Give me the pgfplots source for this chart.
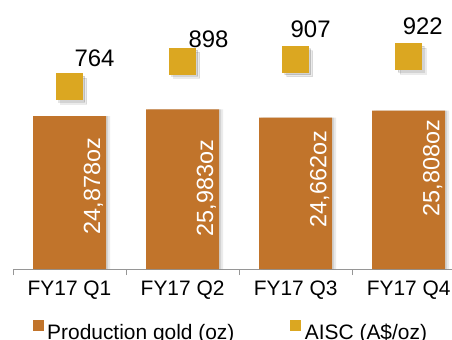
\documentclass[border=0pt]{standalone}
\usepackage{fontspec}
\setmainfont{Liberation Sans}
\usepackage{pgfplots}
\pgfplotsset{compat=1.18}
\usepackage{pgfplotstable}
\definecolor{barc}{RGB}{193,116,43}
\definecolor{goldc}{RGB}{219,167,33}
\definecolor{axg}{RGB}{150,150,150}

\pgfplotstableread{
x y
0 24878
1 25983
2 24662
3 25808
}\prod

\pgfplotstableread{
x y label
0.212 13520 {24,878oz}
1.212 13190 {25,983oz}
2.212 14660 {24,662oz}
3.212 16450 {25,808oz}
}\prodlab

\pgfplotstableread{
x y dx dy label
0 764 25 29 764
1 898 26 22.5 898
2 907 15 30.5 907
3 922 14 31 922
}\aisc

\begin{document}
\begin{tikzpicture}
\path[use as bounding box] (0,0) rectangle (452bp,340bp);
\begin{axis}[
  at={(13bp,71bp)}, anchor=south west,
  scale only axis, width=439bp, height=269bp,
  xmin=-0.5, xmax=3.383, ymin=0, ymax=43810,
  clip=false,
  axis x line*=bottom, axis y line=none,
  x axis line style={draw=axg, line width=0.8bp},
  xtick={0,1,2,3},
  xticklabels={FY17 Q1,FY17 Q2,FY17 Q3,FY17 Q4},
  xtick style={draw=none},
  major tick length=0pt,
  xticklabel style={font=\fontsize{21}{25}\selectfont, yshift=-8bp, text=black},
  extra x ticks={-0.5,0.5,1.5,2.5},
  extra x tick labels={},
  extra x tick style={xtick style={draw=axg, line width=0.8bp}, major tick length=6bp, tick align=outside},
  legend image code/.code={\fill[#1, draw=none] (0bp,1.7bp) rectangle (11bp,12.7bp);},
  legend columns=2,
  legend style={at={(0.0449,-0.1904)}, anchor=north west, draw=none, fill=none,
    inner sep=0pt, outer sep=0pt, font=\fontsize{21}{25}\selectfont,
    nodes={inner sep=0pt},
    /tikz/every odd column/.append style={column sep=3.5bp},
    /tikz/every even column/.append style={column sep=56bp}},
]
\addplot[ybar, bar width=73bp, bar shift=4bp, fill=black, draw=none, opacity=0.08, forget plot] table[x=x,y=y] {\prod};
\addplot[ybar, bar width=73bp, bar shift=2bp, fill=black, draw=none, opacity=0.10, forget plot] table[x=x,y=y] {\prod};
\addplot[ybar, bar width=73bp, bar shift=0bp, fill=barc, draw=none, forget plot] table[x=x,y=y] {\prod};
\addplot[draw=none, mark=none, forget plot,
  point meta=explicit symbolic,
  nodes near coords,
  nodes near coords style={anchor=center, rotate=90, text=white, font=\fontsize{23.5}{26}\selectfont, inner sep=0pt}]
  table[x=x,y=y,meta=label] {\prodlab};
\addlegendimage{fill=barc}
\addlegendentry{Production gold (oz)}
\addlegendimage{fill=goldc}
\addlegendentry{AISC (A\$/oz)}
\end{axis}
\begin{axis}[
  at={(13bp,71bp)}, anchor=south west,
  scale only axis, width=439bp, height=269bp,
  xmin=-0.5, xmax=3.383, ymin=-189, ymax=1219.5,
  clip=false, axis lines=none,
]
\addplot[black, opacity=0.08, only marks, mark=square*, mark size=13bp, mark options={fill=black, draw=none, xshift=4bp, yshift=-4bp}] table[x=x,y=y] {\aisc};
\addplot[black, opacity=0.10, only marks, mark=square*, mark size=13bp, mark options={fill=black, draw=none, xshift=2bp, yshift=-2bp}] table[x=x,y=y] {\aisc};
\addplot[goldc, only marks, mark=square*, mark size=13bp, mark options={fill=goldc, draw=goldc, line width=0pt},
  point meta=explicit symbolic,
  visualization depends on={\thisrow{dx}\as\dx},
  visualization depends on={\thisrow{dy}\as\dy},
  nodes near coords,
  nodes near coords style={anchor=center, xshift=\dx bp, yshift=\dy bp, text=black, font=\fontsize{24}{28}\selectfont, inner sep=0pt}]
  table[x=x,y=y,meta=label] {\aisc};
\end{axis}
\end{tikzpicture}
\end{document}
